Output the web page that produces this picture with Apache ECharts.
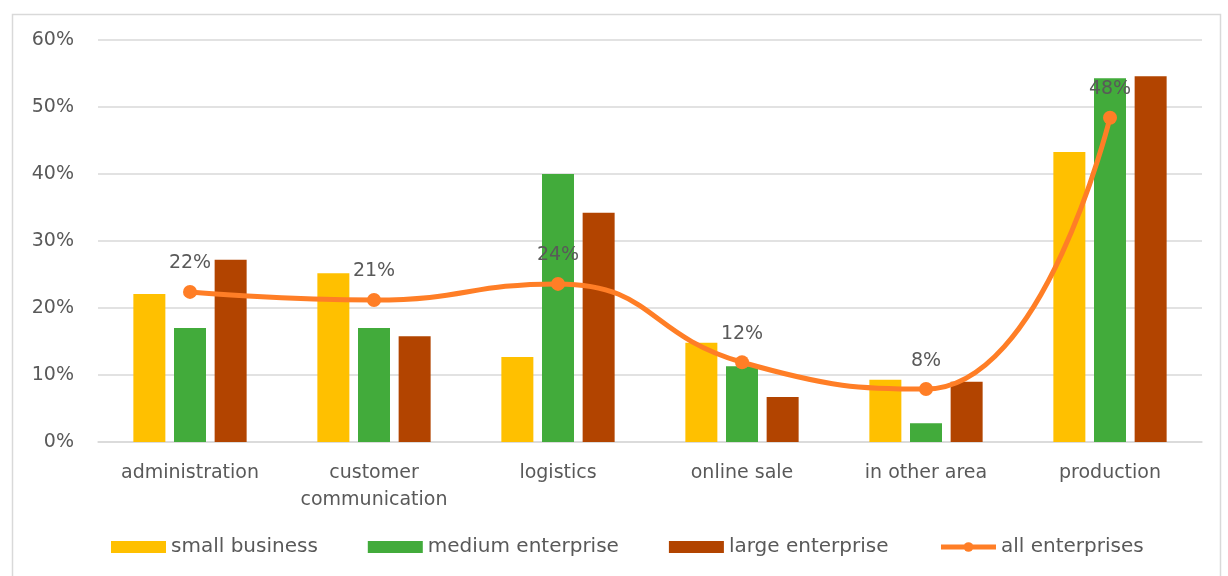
<!DOCTYPE html>
<html>
<head>
<meta charset="utf-8">
<script src="https://cdn.jsdelivr.net/npm/echarts@6/dist/echarts.min.js"></script>
<style>
html,body{margin:0;padding:0;background:#fff;}
#c{width:1228px;height:576px;}
</style>
</head>
<body>
<div id="c"></div>
<script>
const categories = ['administration', 'customer\ncommunication', 'logistics', 'online sale', 'in other area', 'production'];
const smallBusiness = [22.1, 25.2, 12.7, 14.8, 9.3, 43.3];
const mediumEnterprise = [17.0, 17.0, 40.0, 11.3, 2.8, 54.3];
const largeEnterprise = [27.2, 15.8, 34.2, 6.7, 9.0, 54.6];
const allEnterprises = [22.4, 21.2, 23.6, 11.9, 7.9, 48.4];
const allLabels = ['22%', '21%', '24%', '12%', '8%', '48%'];
const yTicks = [0, 10, 20, 30, 40, 50, 60];

const font = 'DejaVu Sans';
const textColor = '#595959';
const chart = echarts.init(document.getElementById('c'));
chart.setOption({
  animation: false,
  graphic: [{
    type: 'rect', left: 10, top: 12,
    shape: { width: 1208, height: 580 },
    style: { fill: 'none', stroke: '#d9d9d9', lineWidth: 1.5 },
    silent: true
  }],
  grid: { left: 98, right: 26, top: 40, bottom: 134, containLabel: false },
  legend: {
    bottom: 14, left: 106,
    itemWidth: 55, itemHeight: 12, itemGap: 50,
    textStyle: { fontFamily: font, fontSize: 20, color: textColor },
    data: [
      { name: 'small business', icon: 'rect' },
      { name: 'medium enterprise', icon: 'rect' },
      { name: 'large enterprise', icon: 'rect' },
      { name: 'all enterprises', lineStyle: { width: 5 } }
    ]
  },
  xAxis: {
    type: 'category',
    data: categories,
    axisLine: { lineStyle: { color: '#d9d9d9', width: 1.5 } },
    axisTick: { show: false },
    axisLabel: { interval: 0, hideOverlap: false, fontFamily: font, fontSize: 19, color: textColor, margin: 18, lineHeight: 27 }
  },
  yAxis: {
    type: 'value', min: yTicks[0], max: yTicks[yTicks.length - 1], interval: 10,
    axisLine: { show: false }, axisTick: { show: false },
    splitLine: { lineStyle: { color: '#d9d9d9', width: 1.5 } },
    axisLabel: { fontFamily: font, fontSize: 19, color: textColor, margin: 24, formatter: '{value}%' }
  },
  series: [
    { name: 'small business', type: 'bar', data: smallBusiness, barWidth: 32, barGap: '27%', itemStyle: { color: '#FFC000' } },
    { name: 'medium enterprise', type: 'bar', data: mediumEnterprise, barWidth: 32, barGap: '27%', itemStyle: { color: '#42AB3B' } },
    { name: 'large enterprise', type: 'bar', data: largeEnterprise, barWidth: 32, barGap: '27%', itemStyle: { color: '#B24400' } },
    {
      name: 'all enterprises', type: 'line', data: allEnterprises, smooth: 0.5,
      symbol: 'circle', symbolSize: 14,
      lineStyle: { color: '#FF7E26', width: 5 },
      itemStyle: { color: '#FF7E26' },
      label: {
        show: true, position: 'top', distance: 12,
        fontFamily: font, fontSize: 19, color: textColor,
        formatter: p => allLabels[p.dataIndex]
      },
      z: 5
    }
  ]
});
</script>
</body>
</html>
